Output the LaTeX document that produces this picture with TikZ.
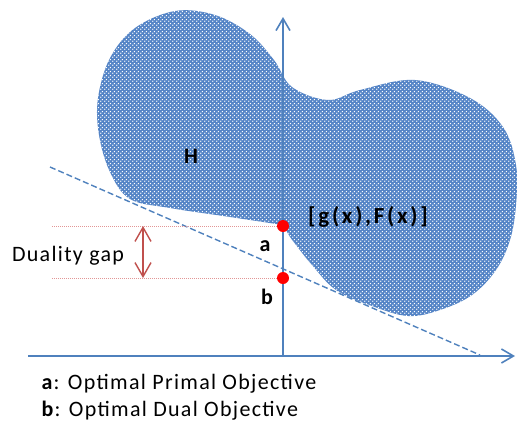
\documentclass[tikz,border=0pt]{standalone}
\usepackage{fontspec}
\setmainfont{Carlito}[LetterSpace=6]
\usetikzlibrary{positioning, arrows.meta, patterns.meta}
\definecolor{axisblue}{RGB}{79,129,189}
\definecolor{blobfill}{RGB}{84,132,198}
\definecolor{gapred}{RGB}{192,80,77}
\definecolor{guidered}{RGB}{226,150,150}
\tikzdeclarepattern{
  name=meshdots, type=uncolored,
  bottom left={(0pt,0pt)}, top right={(4pt,4pt)},
  tile size={(4pt,4pt)},
  code={
    \fill (1pt,1pt) circle (0.9pt);
    \fill (3pt,3pt) circle (0.9pt);
  }
}
\tikzset{
  axis/.style={draw=axisblue, line width=1.6pt, -{Straight Barb[length=12pt, width=14pt]}},
  support/.style={draw=axisblue, line width=1.4pt, dash pattern=on 6pt off 3pt},
  guide/.style={draw=guidered, line width=1pt, densely dotted},
  gap/.style={draw=gapred, line width=1.4pt, {Straight Barb[length=14pt, width=16pt]}-{Straight Barb[length=14pt, width=16pt]}},
  optdot/.style={circle, fill=red, inner sep=0pt, minimum size=12pt},
  region/.style={preaction={fill=blobfill}, pattern=meshdots, pattern color=white}
}

\begin{document}
\begin{tikzpicture}[x=1pt, y=-1pt, font=\fontsize{22}{26}\selectfont]
  \useasboundingbox (0,0) rectangle (517,434);

  % the set H
  \path[region] plot[smooth, tension=0.6] coordinates {
      (283,225) (230,217) (170,208) (130,199) (110,172) (99,135) (98,98)
      (110,58) (135,28) (175,11) (215,15) (250,34) (274,60) (292,87)
      (328,100) (360,90) (415,80) (470,98) (503,127) (516,165) (516,205)
      (510,240) (496,270) (472,295) (440,310) (408,316) (372,306)
      (336,290) (312,265) (296,245) (290,237)} -- cycle;

  % axes
  \coordinate (O) at (283,356);
  \coordinate (ytip) at (283,17);
  \coordinate (xstart) at (28,356);
  \coordinate (xtip) at (515,356);
  \draw[axis] (xstart) -- (xtip);
  \draw[axis] (O) -- (ytip);

  % supporting line
  \coordinate (s1) at (50,167);
  \coordinate (s2) at (480,355);
  \draw[support] (s1) -- (s2);

  % optimal values
  \node[optdot] (a) at (283,226) {};
  \node[optdot] (b) at (283,278) {};
  \coordinate (ga) at (52,226);
  \coordinate (gb) at (52,278);
  \foreach \p in {a,b}
    \draw[guide] (g\p) -- (\p);

  % duality gap
  \coordinate (gaptop) at (143,226);
  \coordinate (gapbot) at (143,278);
  \draw[gap] (gaptop) -- (gapbot);
  \node (gaplbl) at (68,256) {Duality gap};

  % labels
  \node[font=\fontsize{22}{26}\selectfont\bfseries] (Hlbl) at (191,156) {H};
  \node[font=\fontsize{23}{27}\selectfont\bfseries\addfontfeatures{LetterSpace=12}] (Flbl) at (368,217) {[g(x),F(x)]};
  \node[font=\fontsize{22}{26}\selectfont\bfseries] (albl) at (265,246) {a};
  \node[font=\fontsize{22}{26}\selectfont\bfseries] (blbl) at (267,297) {b};

  % legend
  \node[anchor=west] (lega) at (38,384) {\textbf{a}: Optimal Primal Objective};
  \node[anchor=west] (legb) at (38,411) {\textbf{b}: Optimal Dual Objective};
\end{tikzpicture}
\end{document}
